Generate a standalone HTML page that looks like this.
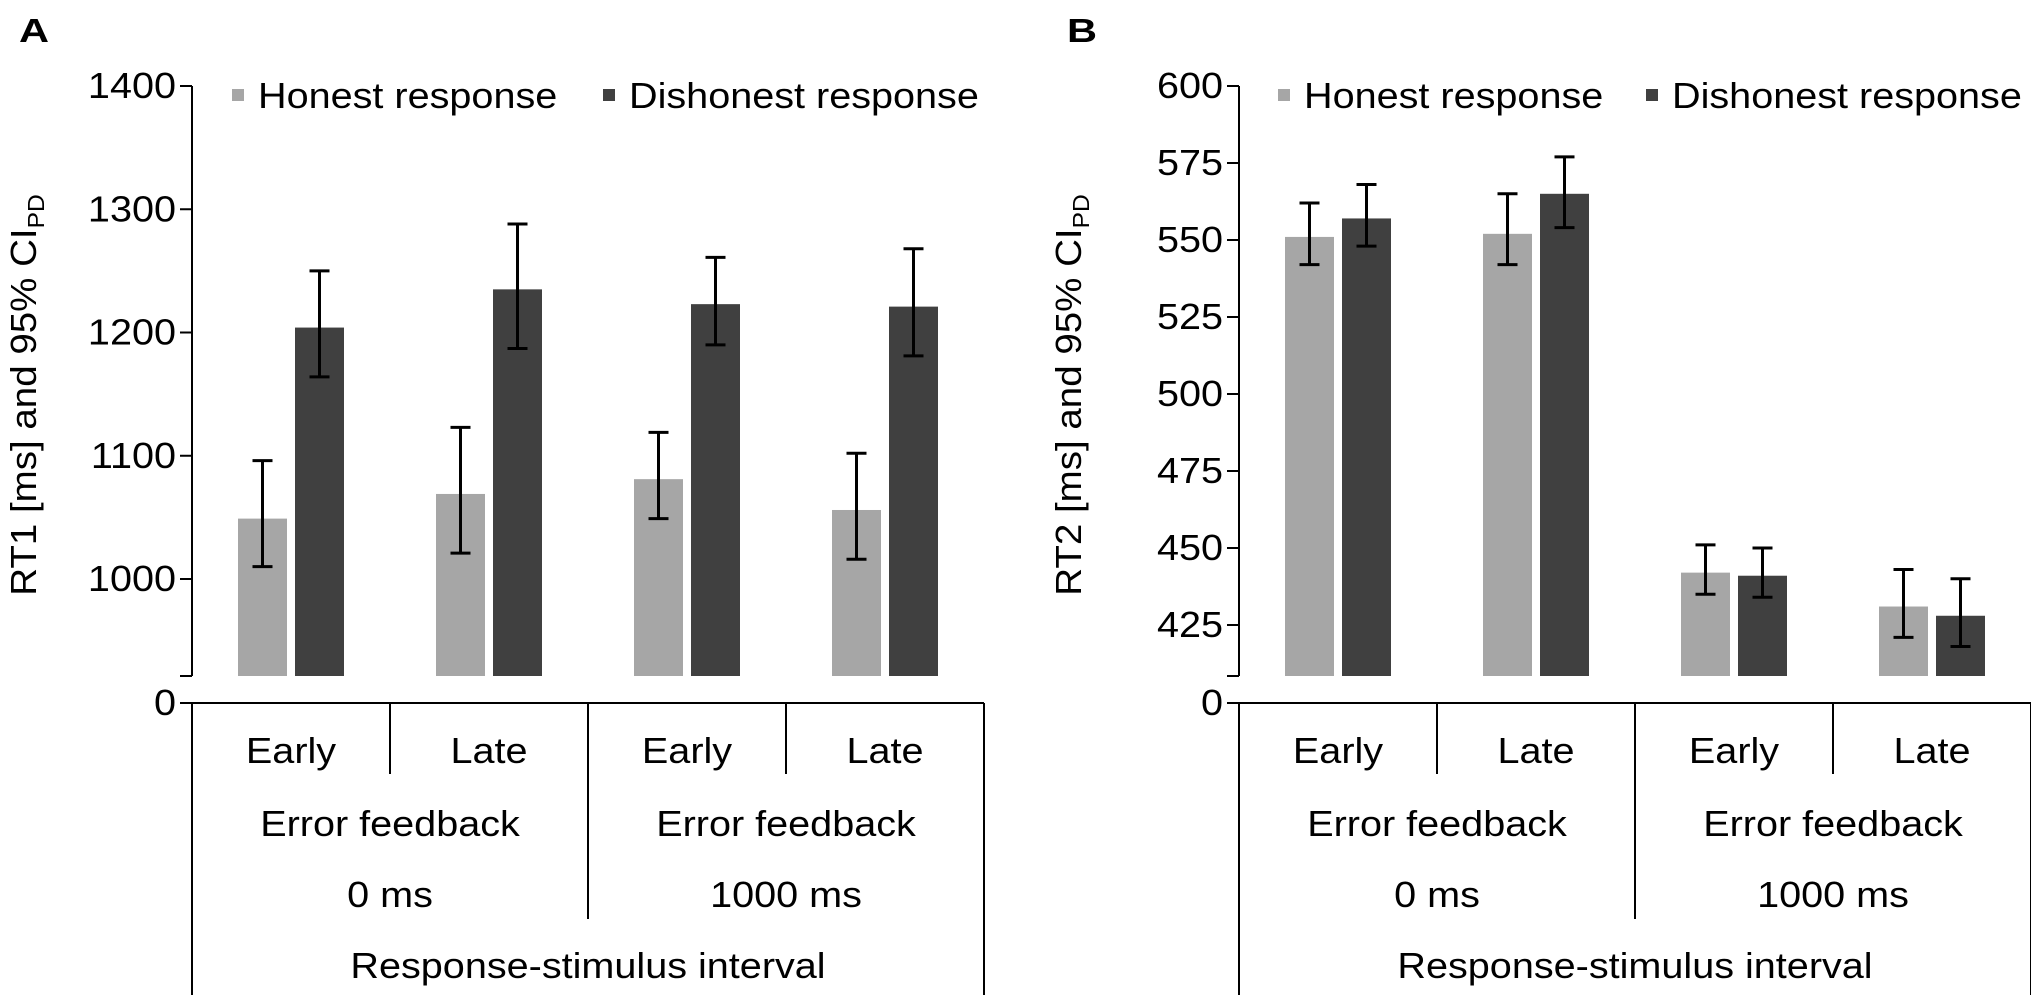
<!DOCTYPE html>
<html><head><meta charset="utf-8"><style>
html,body{margin:0;padding:0;background:#fff;}
svg{display:block;font-family:"Liberation Sans",Arial,sans-serif;}
</style></head><body>
<svg id="chart" width="2031" height="995" viewBox="0 0 2031 995" xmlns="http://www.w3.org/2000/svg"></svg>
<script>
const categories = ["Early","Late","Early","Late"];
const feedbackLabels = ["0 ms","1000 ms"];
const seriesNames = ["Honest response","Dishonest response"];
const aHonest = [1049,1069,1081,1056];
const aHonestLo = [1010,1021,1049,1016];
const aHonestHi = [1096,1123,1119,1102];
const aDishonest = [1204,1235,1223,1221];
const aDishonestLo = [1164,1187,1190,1181];
const aDishonestHi = [1250,1288,1261,1268];
const aTicks = [1000,1100,1200,1300,1400];
const bHonest = [551,552,442,431];
const bHonestLo = [542,542,435,421];
const bHonestHi = [562,565,451,443];
const bDishonest = [557,565,441,428];
const bDishonestLo = [548,554,434,418];
const bDishonestHi = [568,577,450,440];
const bTicks = [425,450,475,500,525,550,575,600];

const NS="http://www.w3.org/2000/svg";
const svg=document.getElementById('chart');
function mk(tag,attrs,parent,text){const e=document.createElementNS(NS,tag);for(const k in attrs)e.setAttribute(k,attrs[k]);if(text!==undefined)e.textContent=text;(parent||svg).appendChild(e);return e;}
const COLORS=["#a6a6a6","#404040"];
const FS=36;
const SX=1.1;
function txt(parent,x,y,s,anchor,extra){
  const t=mk('text',Object.assign({transform:`translate(${x},${y}) scale(${SX},1)`,'font-size':FS,'text-anchor':anchor||'start',fill:'#000'},extra||{}),parent,s);
  return t;
}

function panel(o){
  const g=mk('g',{});
  
  
  const ax=o.axisX, top=86, base=676, zeroY=703, catW=198;
  const tmin=o.ticks[0], tmax=o.ticks[o.ticks.length-1];
  const yLowTick=o.lowTickY;
  const y=v=>yLowTick-(v-tmin)*(yLowTick-top)/(tmax-tmin);
  const L=mk('text',{transform:`translate(${o.letterX},42) scale(1.3,1.05)`,'font-size':32,'font-weight':'bold',fill:'#000'},g,o.letter);
  
  
  const ya=mk('line',{x1:ax,y1:top,x2:ax,y2:base,stroke:'#000','stroke-width':2},g);
  
  
  mk('line',{x1:ax-12,y1:base,x2:ax,y2:base,stroke:'#000','stroke-width':2},g);
  o.ticks.forEach(t=>{
    const yy=y(t);
    mk('line',{x1:ax-12,y1:yy,x2:ax,y2:yy,stroke:'#000','stroke-width':2},g);
    const tl=txt(g,ax-16,yy+12,String(t),'end');
    
    
  });
  const z=txt(g,ax-16,zeroY+12,"0",'end');
  
  
  const yt=mk('text',{transform:`translate(${o.titleX},395) rotate(-90) scale(1.07,1)`,'font-size':FS,'text-anchor':'middle',fill:'#000'},g);
  
  
  mk('tspan',{},yt,o.title+" [ms] and 95% CI");
  mk('tspan',{'font-size':23,dy:8},yt,"PD");
  const xa=mk('line',{x1:ax-12,y1:zeroY,x2:ax+4*catW,y2:zeroY,stroke:'#000','stroke-width':2},g);
  
  
  mk('line',{x1:ax,y1:zeroY,x2:ax,y2:995,stroke:'#000','stroke-width':2},g);
  mk('line',{x1:ax+4*catW,y1:zeroY,x2:ax+4*catW,y2:995,stroke:'#000','stroke-width':2},g);
  mk('line',{x1:ax+catW,y1:zeroY,x2:ax+catW,y2:774,stroke:'#000','stroke-width':2},g);
  mk('line',{x1:ax+3*catW,y1:zeroY,x2:ax+3*catW,y2:774,stroke:'#000','stroke-width':2},g);
  mk('line',{x1:ax+2*catW,y1:zeroY,x2:ax+2*catW,y2:919,stroke:'#000','stroke-width':2},g);
  categories.forEach((c,i)=>{
    const t=txt(g,ax+catW*(i+0.5),763,c,'middle');
    
    
  });
  feedbackLabels.forEach((f,i)=>{
    const cx=ax+catW*(2*i+1);
    const t1=txt(g,cx,836,"Error feedback",'middle');
    
    
    const t2=txt(g,cx,907,f,'middle');
    
    
  });
  const rt=txt(g,ax+2*catW,978,"Response-stimulus interval",'middle');
  
  
  const bw=49, gap=8;
  const series=[[o.h,o.hl,o.hh],[o.d,o.dl,o.dh]];
  series.forEach((s,si)=>{
    s[0].forEach((v,i)=>{
      const cx=ax+catW*(i+0.5);
      const x0=si===0?cx-gap/2-bw:cx+gap/2;
      const r=mk('rect',{x:x0,y:y(v),width:bw,height:base-y(v),fill:COLORS[si]},g);
      
      
      const ex=x0+bw/2, lo=y(s[1][i]), hi=y(s[2][i]);
      const e=mk('path',{d:`M${ex},${lo}V${hi}M${ex-10},${lo}H${ex+10}M${ex-10},${hi}H${ex+10}`,stroke:'#000','stroke-width':3,fill:'none'},g);
      
      
    });
  });
  o.legendX.forEach((lx,i)=>{
    const lg=mk('g',{},g);
    
    
    mk('rect',{x:lx,y:89,width:12,height:12,fill:COLORS[i]},lg);
    txt(lg,lx+26,108,seriesNames[i],'start');
  });
}
panel({id:'panel-a',letter:'A',letterX:19,axisX:192,ticks:aTicks,lowTickY:579,title:'RT1',titleX:36,
  h:aHonest,hl:aHonestLo,hh:aHonestHi,d:aDishonest,dl:aDishonestLo,dh:aDishonestHi,legendX:[232,603]});
panel({id:'panel-b',letter:'B',letterX:1067,axisX:1239,ticks:bTicks,lowTickY:625,title:'RT2',titleX:1081,
  h:bHonest,hl:bHonestLo,hh:bHonestHi,d:bDishonest,dl:bDishonestLo,dh:bDishonestHi,legendX:[1278,1646]});
</script>
</body></html>
